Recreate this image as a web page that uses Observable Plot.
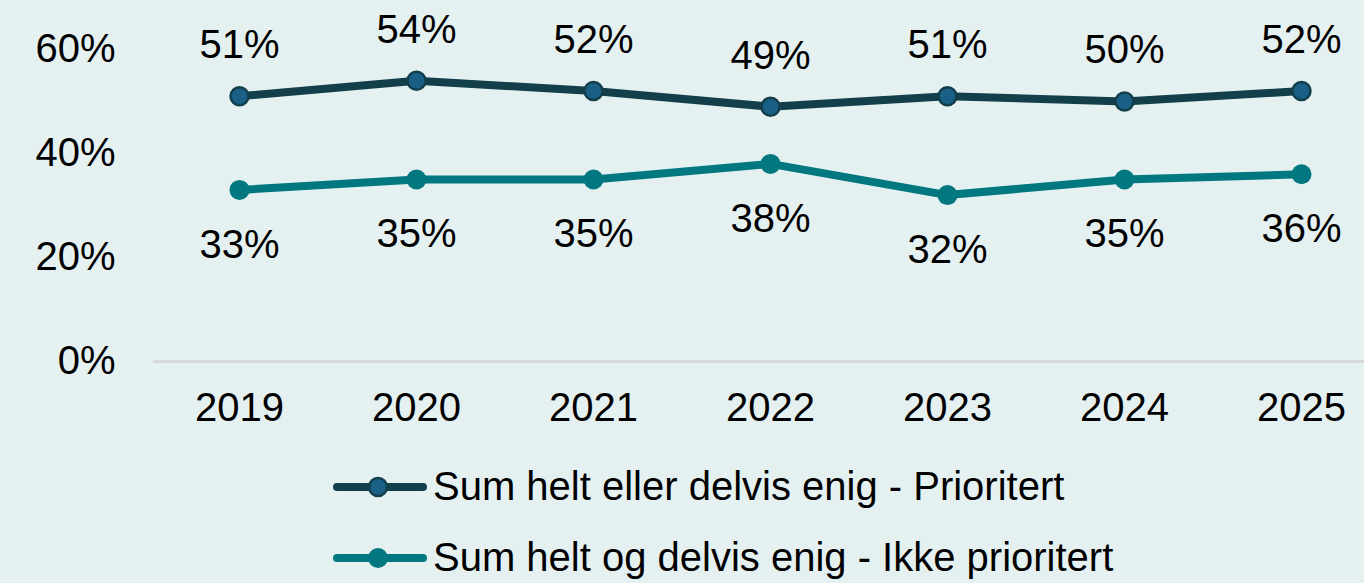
<!DOCTYPE html>
<html>
<head>
<meta charset="utf-8">
<script src="https://cdn.jsdelivr.net/npm/d3@7"></script>
<script src="https://cdn.jsdelivr.net/npm/@observablehq/plot@0.6"></script>
<style>
  html, body { margin: 0; padding: 0; background: #e5f1f1; }
  body { width: 1364px; height: 583px; overflow: hidden; font-family: "Liberation Sans", Arial, sans-serif; }
  #legend { margin-top: 11px; padding-left: 333px; }
  .row { display: flex; align-items: center; height: 71px; }
  .row span { font-size: 40px; color: #000; white-space: nowrap; }
</style>
</head>
<body>
<div id="chart"></div>
<div id="legend"></div>
<script>
const years = ["2019", "2020", "2021", "2022", "2023", "2024", "2025"];
const prioritert = [51, 54, 52, 49, 51, 50, 52];
const ikkePrioritert = [33, 35, 35, 38, 32, 35, 36];
const seriesNames = ["Sum helt eller delvis enig - Prioritert", "Sum helt og delvis enig - Ikke prioritert"];
const lineColors = ["#133f4b", "#017780"];
const dotFills = ["#1a5f85", "#017780"];
const yTicks = [0, 20, 40, 60];

const rowsA = years.map((yr, i) => ({year: yr, v: prioritert[i], s: seriesNames[0]}));
const rowsB = years.map((yr, i) => ({year: yr, v: ikkePrioritert[i], s: seriesNames[1]}));

const chart = Plot.plot({
  width: 1364,
  height: 440,
  marginLeft: 153,
  marginRight: 0,
  marginTop: 49,
  marginBottom: 79,
  style: {background: "#e5f1f1", color: "#000", fontSize: "40px", fontFamily: "'Liberation Sans', Arial, sans-serif", overflow: "visible"},
  x: {type: "point", domain: years, range: [237, 1303], padding: 0},
  y: {domain: [0, 60]},
  marks: [
    Plot.ruleY([0], {stroke: "#d9d9d9", strokeWidth: 3}),
    Plot.axisY({ticks: yTicks, tickFormat: d => d + "%", tickSize: 0, tickPadding: 38, fontSize: 40, label: null}),
    Plot.axisX({tickSize: 0, tickPadding: 31, fontSize: 40, label: null}),
    Plot.line(rowsA, {x: "year", y: "v", stroke: lineColors[0], strokeWidth: 8}),
    Plot.line(rowsB, {x: "year", y: "v", stroke: lineColors[1], strokeWidth: 8}),
    Plot.dot(rowsA, {x: "year", y: "v", r: 9, fill: dotFills[0], stroke: lineColors[0], strokeWidth: 2.5}),
    Plot.dot(rowsB, {x: "year", y: "v", r: 10, fill: dotFills[1]}),
    Plot.text(rowsA, {x: "year", y: "v", text: d => d.v + "%", dy: -51, fontSize: 40, fill: "#000"}),
    Plot.text(rowsB, {x: "year", y: "v", text: d => d.v + "%", dy: 55, fontSize: 40, fill: "#000"})
  ]
});
document.getElementById("chart").appendChild(chart);

const legend = document.getElementById("legend");
seriesNames.forEach((name, i) => {
  const row = document.createElement("div");
  row.className = "row";
  const strokeAttr = i === 0 ? `stroke="${lineColors[0]}" stroke-width="2.5"` : "";
  const r = i === 0 ? 9 : 10;
  row.innerHTML = `<svg width="100" height="30" style="display:block"><line x1="4" x2="90" y1="15" y2="15" stroke="${lineColors[i]}" stroke-width="8" stroke-linecap="round"/><circle cx="45" cy="15" r="${r}" fill="${dotFills[i]}" ${strokeAttr}/></svg><span>${name}</span>`;
  legend.appendChild(row);
});
</script>
</body>
</html>
